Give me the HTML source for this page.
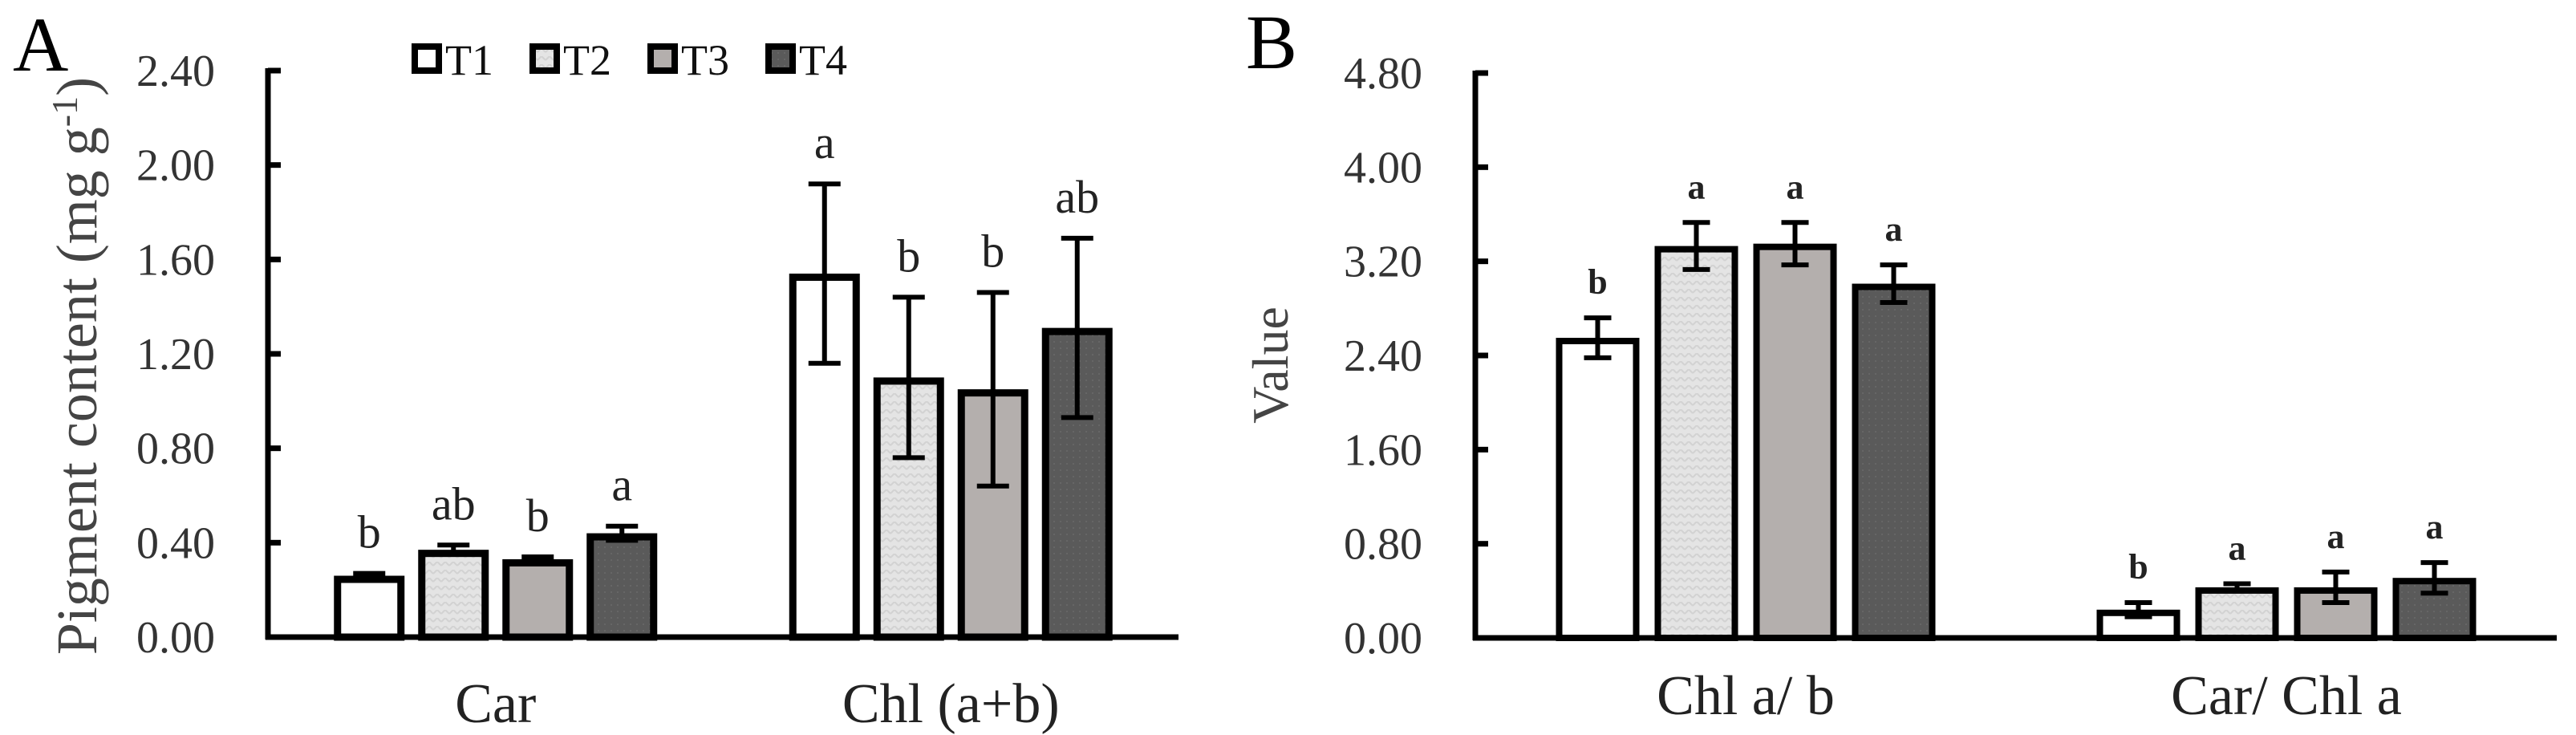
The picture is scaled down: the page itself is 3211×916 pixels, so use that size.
<!DOCTYPE html>
<html><head><meta charset="utf-8"><style>
html,body{margin:0;padding:0;background:#fff;}
svg{display:block;font-family:"Liberation Serif",serif;}
</style></head><body>
<svg id="chart" width="3211" height="916" viewBox="0 0 3211 916" xmlns="http://www.w3.org/2000/svg">
<defs>
<pattern id="p2" width="10" height="10" patternUnits="userSpaceOnUse"><rect width="10" height="10" fill="#e4e4e4"/><path d="M0 5 L5 0 L10 5" stroke="#d2d2d2" stroke-width="2" fill="none"/></pattern>
<pattern id="p4" width="8" height="8" patternUnits="userSpaceOnUse"><rect width="8" height="8" fill="#5a5a5a"/><circle cx="2" cy="2" r="1" fill="#6a6a6a"/></pattern>
</defs>
<text x="16" y="88" font-size="96" fill="#000">A</text>
<text x="1553" y="85" font-size="96" fill="#000">B</text>
<g id="legend"></g>
<g id="panelA"></g>
<g id="panelB"></g>
</svg>
<script>
const series = ['T1','T2','T3','T4'];
const aCategories = ['Car','Chl (a+b)'];
const aValues = [[0.26,1.54],[0.37,1.10],[0.33,1.05],[0.44,1.31]];
const aErrors = [[0.01,0.38],[0.02,0.34],[0.01,0.41],[0.03,0.38]];
const aLetters = [['b','a'],['ab','b'],['b','b'],['a','ab']];
const aTicks = ['0.00','0.40','0.80','1.20','1.60','2.00','2.40'];
const bCategories = ['Chl a/ b','Car/ Chl a'];
const bValues = [[2.55,0.24],[3.33,0.43],[3.35,0.43],[3.01,0.51]];
const bErrors = [[0.17,0.06],[0.20,0.03],[0.18,0.13],[0.16,0.13]];
const bLetters = [['b','b'],['a','a'],['a','a'],['a','a']];
const bTicks = ['0.00','0.80','1.60','2.40','3.20','4.00','4.80'];

const fills = ['#ffffff','url(#p2)','#b4afad','url(#p4)'];
const NS = 'http://www.w3.org/2000/svg';
function mk(parent, tag, attrs, text){
  const e = document.createElementNS(NS, tag);
  for (const k in attrs) e.setAttribute(k, attrs[k]);
  if (text !== undefined) e.textContent = text;
  parent.appendChild(e);
  return e;
}

function drawPanel(g, cfg){
  const ax = cfg.ax, x1 = cfg.x1, y0 = cfg.y0, yTop = cfg.yTop;
  const maxV = parseFloat(cfg.ticks[cfg.ticks.length-1]);
  const yS = v => y0 - (v / maxV) * (y0 - yTop);
  const catW = (x1 - ax) / cfg.cats.length;
  cfg.ticks.forEach(t => {
    const y = yS(parseFloat(t));
    const tk = mk(g,'line',{x1:ax,x2:ax+16,y1:y,y2:y,stroke:'#000','stroke-width':7});
    
    
    const lb = mk(g,'text',{x:ax-66,y:y+19,'text-anchor':'end','font-size':56,fill:'#333'},t);
    
    
  });
  cfg.cats.forEach((c, ci) => {
    const cx = ax + catW*(ci+0.5);
    const start = cx - cfg.step*2;
    cfg.vals.forEach((sv, si) => {
      const v = sv[ci], e = cfg.errs[si][ci];
      const bx = start + si*cfg.step + (cfg.step - cfg.bw)/2;
      const top = yS(v);
      const sw = cfg.sw;
      const r = mk(g,'rect',{x:bx+sw/2,y:top+sw/2,width:cfg.bw-sw,height:y0-top-sw/2,fill:fills[si],stroke:'#000','stroke-width':sw});
      
      
      const mx = bx + cfg.bw/2;
      const eg = mk(g,'g',{stroke:'#000','stroke-width':6});
      
      
      mk(eg,'line',{x1:mx,x2:mx,y1:yS(v+e),y2:yS(v-e)});
      mk(eg,'line',{x1:mx-cfg.cap,x2:mx+cfg.cap,y1:yS(v+e),y2:yS(v+e)});
      mk(eg,'line',{x1:mx-cfg.cap,x2:mx+cfg.cap,y1:yS(v-e),y2:yS(v-e)});
      const lt = mk(g,'text',{x:mx,y:yS(v+e)-cfg.letterGap,'text-anchor':'middle','font-size':cfg.letterSize,'font-weight':cfg.letterWeight,fill:'#222'},cfg.letters[si][ci]);
      
      
    });
    const cl = mk(g,'text',{x:cx,y:cfg.catY,'text-anchor':'middle','font-size':70,fill:'#222'},c);
    
    
  });
  const yl = mk(g,'line',{x1:ax,x2:ax,y1:yTop-3,y2:y0+3,stroke:'#000','stroke-width':7});
  
  
  const xl = mk(g,'line',{x1:ax-3,x2:x1,y1:y0,y2:y0,stroke:'#000','stroke-width':7});
  
  
  const tt = mk(g,'text',{x:0,y:0,transform:'translate('+cfg.titleX+' '+cfg.titleY+') rotate(-90)','text-anchor':'middle','font-size':cfg.titleSize,fill:'#444'});
  
  
  tt.innerHTML = cfg.title;
}

drawPanel(document.getElementById('panelA'),{ax:334,x1:1469,y0:794,yTop:88,ticks:aTicks,cats:aCategories,vals:aValues,errs:aErrors,letters:aLetters,step:105,bw:88,sw:9,cap:20,letterGap:32,letterSize:58,letterWeight:'normal',catY:900,titleX:120,titleY:456,titleSize:72,title:'Pigment content (mg g<tspan dy="-24" font-size="46">-1</tspan><tspan dy="24">)</tspan>'});
drawPanel(document.getElementById('panelB'),{ax:1839,x1:3187,y0:795,yTop:91,ticks:bTicks,cats:bCategories,vals:bValues,errs:bErrors,letters:bLetters,step:123,bw:104,sw:8,cap:17,letterGap:30,letterSize:44,letterWeight:'bold',catY:890,titleX:1605,titleY:455,titleSize:64,title:'Value'});

const leg = document.getElementById('legend');
series.forEach((s, i) => {
  const x = 513 + i*147;
  const r = mk(leg,'rect',{x:x+4,y:58,width:30,height:30,fill:fills[i],stroke:'#000','stroke-width':8});
  
  
  const t = mk(leg,'text',{x:x+42,y:93,'font-size':54,fill:'#111'},s);
  
  
});
</script>
</body></html>
